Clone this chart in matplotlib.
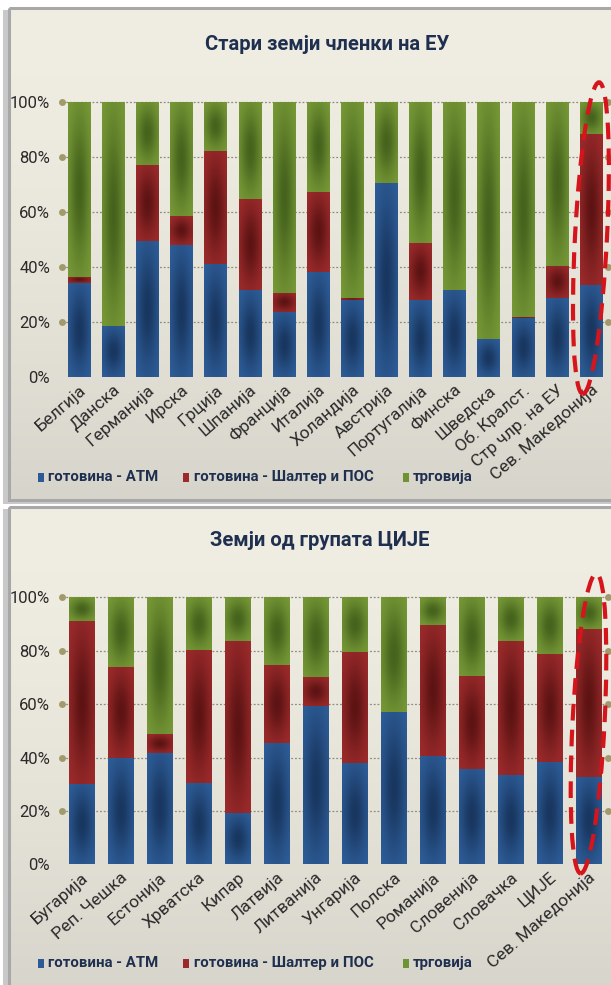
import numpy as np
import matplotlib
matplotlib.use("Agg")
import matplotlib.pyplot as plt
from matplotlib.patches import Rectangle, Ellipse
from matplotlib.colors import to_rgb
import matplotlib.transforms as mtransforms

plt.rcParams['font.family'] = ['Roboto', 'DejaVu Sans']

# ---------------- data ----------------
top_title = "Стари земји членки на ЕУ"
top_countries = ['Белгија', 'Данска', 'Германија', 'Ирска', 'Грција', 'Шпанија',
                 'Франција', 'Италија', 'Холандија', 'Австрија', 'Португалија',
                 'Финска', 'Шведска', 'Об. Кралст.', 'Стр члр. на ЕУ', 'Сев. Македонија']
top_atm = [34.0, 18.5, 49.5, 48.0, 41.0, 31.5, 23.4, 38.0, 28.0, 70.3, 28.0, 31.5, 13.7, 21.2, 28.5, 33.3]
top_counter = [2.4, 0.0, 27.5, 10.5, 41.0, 33.0, 7.1, 29.2, 0.7, 0.0, 20.5, 0.0, 0.0, 0.5, 11.8, 54.8]
top_trade = [63.6, 81.5, 23.0, 41.5, 18.0, 35.5, 69.5, 32.8, 71.3, 29.7, 51.5, 68.5, 86.3, 78.3, 59.7, 11.9]

bot_title = "Земји од групата ЦИЈЕ"
bot_countries = ['Бугарија', 'Реп. Чешка', 'Естонија', 'Хрватска', 'Кипар', 'Латвија',
                 'Литванија', 'Унгарија', 'Полска', 'Романија', 'Словенија', 'Словачка',
                 'ЦИЈЕ', 'Сев. Македонија']
bot_atm = [30.0, 39.7, 41.8, 30.3, 19.1, 45.5, 59.3, 38.0, 57.0, 40.7, 35.7, 33.4, 38.4, 32.8]
bot_counter = [61.3, 34.1, 6.9, 50.0, 64.5, 29.1, 10.7, 41.5, 0.0, 49.0, 34.7, 50.2, 40.4, 55.3]
bot_trade = [8.7, 26.2, 51.3, 19.7, 16.4, 25.4, 30.0, 20.5, 43.0, 10.3, 29.6, 16.4, 21.2, 11.9]

series_names = ['готовина - АТМ', 'готовина - Шалтер и ПОС', 'трговија']
y_ticks = [0, 20, 40, 60, 80, 100]
y_ticklabels = ['0%', '20%', '40%', '60%', '80%', '100%']

# ---------------- style ----------------
W, H = 611, 985
DPI = 100
light = ['#2F5F9B', '#A02C2D', '#7A9C38']
dark = ['#17345C', '#5A1212', '#42601B']
legend_sq = ['#2B5A97', '#9B2A2B', '#6F9232']
navy = '#1E2F4F'
txt = '#2A2A2A'
dot_col = '#A39A6C'
grid_col = '#8E8C80'

fig = plt.figure(figsize=(W / DPI, H / DPI), dpi=DPI, facecolor='white')

bg = fig.add_axes([0, 0, 1, 1], zorder=-10)
bg.set_xlim(0, W)
bg.set_ylim(H, 0)
bg.axis('off')


def panel(y0, y1):
    bg.add_patch(Rectangle((3, y0 + 2), W, y1 - y0 + 2, facecolor='#C9C9C9', edgecolor='none', zorder=0))
    grad = np.linspace(0, 1, 200)[:, None]
    c_top = np.array(to_rgb('#F0EDE2'))
    c_bot = np.array(to_rgb('#D7D5CB'))
    img = c_top[None, None, :] * (1 - grad[..., None] ** 1.6) + c_bot[None, None, :] * (grad[..., None] ** 1.6)
    img = np.repeat(img, 2, axis=1)
    bg.imshow(img, extent=(10, W + 5, y1, y0), aspect='auto', zorder=1, interpolation='bilinear')
    bg.add_patch(Rectangle((9, y0), W, y1 - y0, facecolor='none', edgecolor='#A8A8A8', lw=2.2, zorder=2))


panel(8, 500)
panel(507, H + 10)


def shade(ax, rect, li, dk):
    x0, y0 = rect.get_x(), rect.get_y()
    w, h = rect.get_width(), rect.get_height()
    if h <= 0:
        return
    ny, nx = 60, 30
    yy, xx = np.mgrid[0:1:ny * 1j, 0:1:nx * 1j]
    f = np.exp(-((xx - 0.5) / 0.45) ** 2 - ((yy - 0.5) / 0.42) ** 2)
    f = f * 0.95
    li = np.array(to_rgb(li))
    dk = np.array(to_rgb(dk))
    img = li[None, None, :] * (1 - f[..., None]) + dk[None, None, :] * f[..., None]
    im = ax.imshow(img, extent=(x0, x0 + w, y0, y0 + h), aspect='auto', origin='lower',
                   interpolation='bilinear', zorder=3)
    im.set_clip_path(rect)


def draw(rect_frac, countries, atm, counter, trade, title, title_x, title_y, legend_y, ell):
    ax = fig.add_axes(rect_frac)
    ax.set_facecolor('none')
    n = len(countries)
    x = np.arange(n)
    vals = [np.array(atm), np.array(counter), np.array(trade)]
    bottom = np.zeros(n)
    for k in range(3):
        bars = ax.bar(x, vals[k], 0.65, bottom=bottom, color=light[k], zorder=2, linewidth=0)
        for r in bars:
            shade(ax, r, light[k], dark[k])
        bottom = bottom + vals[k]
    ax.set_xlim(-0.5, n - 0.5)
    ax.set_ylim(0, 100)
    for s in ax.spines.values():
        s.set_visible(False)
    ax.set_yticks(y_ticks)
    ax.set_yticklabels(y_ticklabels, fontsize=12, color=txt)
    ax.tick_params(axis='y', length=0, pad=8.5)
    ax.set_xticks(x)
    ax.set_xticklabels(countries, rotation=41, ha='right', va='top', rotation_mode='anchor',
                       fontsize=12.5, color=txt)
    ax.tick_params(axis='x', length=0, pad=4)
    tr = mtransforms.blended_transform_factory(ax.transAxes, ax.transData)
    for yv in y_ticks[1:]:
        ax.plot([0, 1], [yv, yv], transform=tr, ls=(0, (1.5, 1.5)), lw=0.9, color=grid_col, zorder=1, clip_on=False)
        ax.plot([0, 1], [yv, yv], transform=tr, ls='none', marker='o', ms=5, color=dot_col,
                mec='none', zorder=5, clip_on=False)
    ecx, ecy, ew, eh, ea = ell
    etr = fig.dpi_scale_trans + mtransforms.ScaledTranslation(ecx, ecy, ax.transData)
    ax.add_patch(Ellipse((0, 0), ew, eh, angle=ea, transform=etr, fill=False, edgecolor='#D5141C',
                         lw=3.0, ls=(0, (4, 2.2)), zorder=6, clip_on=False))
    fig.text(title_x / W, 1 - title_y / H, title, ha='center', va='center', fontsize=14.5,
             fontweight='bold', color=navy)
    sq_x = [38, 183, 403]
    tx_x = [48, 194, 413]
    for k in range(3):
        bg.add_patch(Rectangle((sq_x[k], legend_y - 4.5), 6, 9, facecolor=legend_sq[k], edgecolor='none', zorder=5))
        bg.text(tx_x[k], legend_y, series_names[k], ha='left', va='center', fontsize=10.8,
                fontweight='bold', color=navy, zorder=5)
    return ax


draw([62 / W, 1 - 376.7 / H, 546 / W, 275 / H], top_countries, top_atm, top_counter, top_trade,
     top_title, 327, 45, 477, (15, 50.4, 0.32, 3.12, -3))
draw([62 / W, 1 - 864.3 / H, 546 / W, 267 / H], bot_countries, bot_atm, bot_counter, bot_trade,
     bot_title, 320, 541, 963, (13, 52.7, 0.32, 3.0, -3))

fig.savefig('out.png', dpi=DPI, facecolor='white')
